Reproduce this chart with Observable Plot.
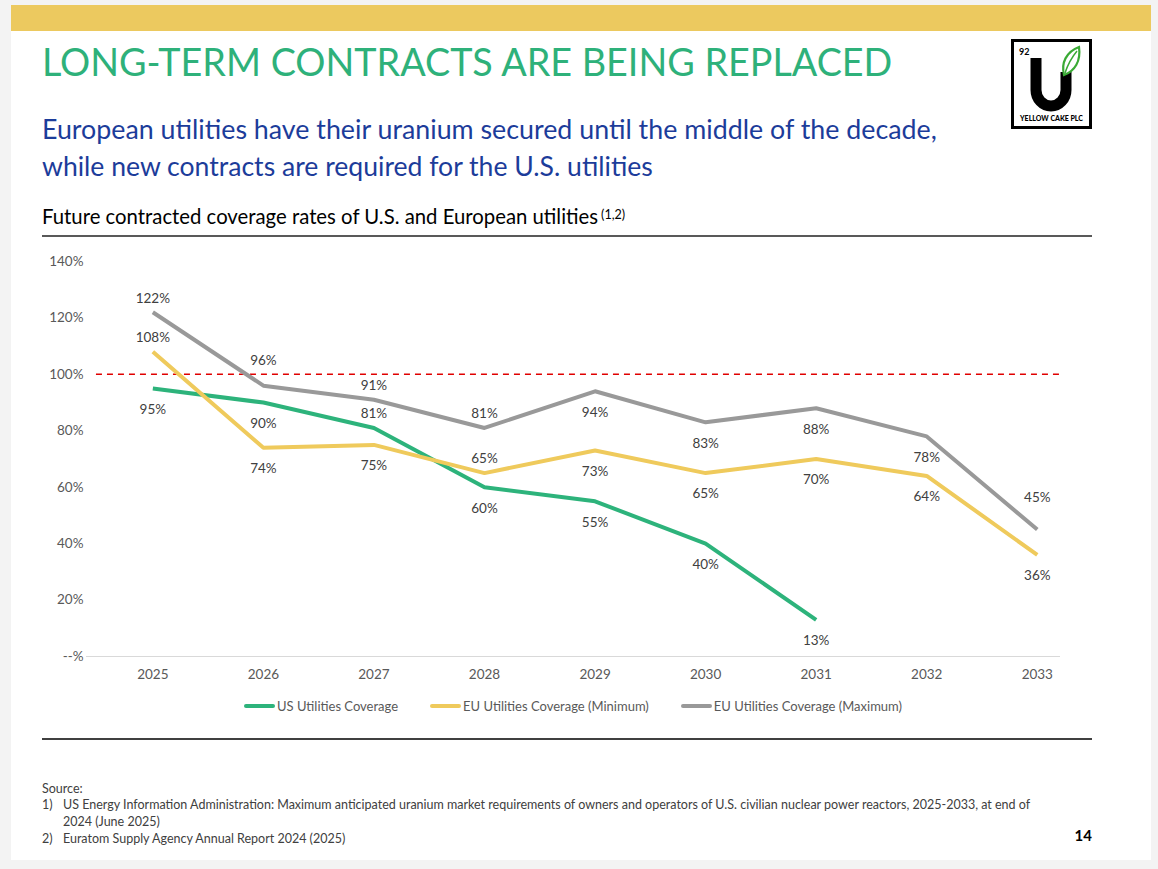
<!DOCTYPE html>
<html><head><meta charset="utf-8">
<script src="https://cdn.jsdelivr.net/npm/d3@7"></script>
<script src="https://cdn.jsdelivr.net/npm/@observablehq/plot@0.6"></script>
<style>
html,body{margin:0;padding:0;background:#f3f3f3;width:1158px;height:869px;overflow:hidden;font-family:Lato,"Open Sans",sans-serif;}
#slide{position:absolute;left:11px;top:5px;width:1140px;height:855px;background:#fff;}
#deco{position:absolute;left:0;top:0;}
#chart{position:absolute;left:0;top:245px;width:1158px;}
#legend{position:absolute;left:0;top:698px;width:1146px;display:flex;justify-content:center;gap:32px;font-size:13px;color:#595959;font-family:Lato,sans-serif;}
#legend .item{display:flex;align-items:center;}
#legend .sw{width:31px;height:4px;border-radius:2px;margin-right:2px;}
</style></head><body>
<div id="slide"></div>
<svg id="deco" width="1158" height="869" font-family="Lato, sans-serif">
  <rect x="11" y="5" width="1140" height="26" fill="#ecc95f"/>
  <text id="t1" x="42" y="76" fill="#2eb17a" font-size="38">LONG-TERM CONTRACTS ARE BEING REPLACED</text>
  <text id="t2" x="42" y="139" fill="#1c3c9a" font-size="25">European utilities have their uranium secured until the middle of the decade,</text>
  <text id="t3" x="42" y="176" fill="#1c3c9a" font-size="25">while new contracts are required for the U.S. utilities</text>
  <text id="t4" x="42" y="224" fill="#000" font-size="18">Future contracted coverage rates of U.S. and European utilities</text>
  <text id="t4s" x="601" y="219" fill="#000" font-size="12.5">(1,2)</text>
  <line x1="42" x2="1092" y1="236" y2="236" stroke="#595959" stroke-width="2"/>
  <line x1="42" x2="1092" y1="739" y2="739" stroke="#404040" stroke-width="2"/>
  <g fill="#404040" font-size="12.5">
    <text x="42" y="793">Source:</text>
    <text x="42" y="809">1)</text>
    <text id="s1" x="63" y="809">US Energy Information Administration: Maximum anticipated uranium market requirements of owners and operators of U.S. civilian nuclear power reactors, 2025-2033, at end of</text>
    <text x="63" y="826">2024 (June 2025)</text>
    <text x="42" y="843">2)</text>
    <text x="63" y="843">Euratom Supply Agency Annual Report 2024 (2025)</text>
  </g>
  <text x="1092" y="841" text-anchor="end" font-weight="bold" font-size="15" fill="#000">14</text>
  <!-- logo -->
  <g>
    <rect x="1012.5" y="40.5" width="78" height="87" fill="#fff" stroke="#000" stroke-width="3"/>
    <text x="1019" y="55" font-size="9" font-weight="bold" fill="#000">92</text>
    <path d="M1036,58 L1036,90 A15,16 0 0 0 1066,90 L1066,72" fill="none" stroke="#000" stroke-width="11"/>
    <path d="M1064,75 C1061,63 1066,52 1079,47 C1081,61 1075,71 1064,75 Z" fill="#fff" stroke="#3aaa35" stroke-width="2.2"/>
    <path d="M1065,73 C1068,64 1072,57 1077,51" fill="none" stroke="#3aaa35" stroke-width="1.5"/>
    <text x="1051.5" y="121" text-anchor="middle" font-size="7" font-weight="900" fill="#000">YELLOW CAKE PLC</text>
  </g>
</svg>
<div id="chart"></div>
<div id="legend"></div>
<script>
// ---- data ----
const years = [2025, 2026, 2027, 2028, 2029, 2030, 2031, 2032, 2033];
const usCoverage = [95, 90, 81, 60, 55, 40, 13];
const euMinCoverage = [108, 74, 75, 65, 73, 65, 70, 64, 36];
const euMaxCoverage = [122, 96, 91, 81, 94, 83, 88, 78, 45];
const seriesNames = ["US Utilities Coverage", "EU Utilities Coverage (Minimum)", "EU Utilities Coverage (Maximum)"];
const yTicks = [0, 20, 40, 60, 80, 100, 120, 140];
const fullCoverage = 100;

// ---- style config ----
const seriesColors = ["#2db37b", "#efca5c", "#999999"];
const labelAbove = {
  "US Utilities Coverage": [2027],
  "EU Utilities Coverage (Minimum)": [2025, 2028],
  "EU Utilities Coverage (Maximum)": [2025, 2026, 2027, 2028, 2033]
};
const labelShift = {"EU Utilities Coverage (Maximum)|2026": -25, "EU Utilities Coverage (Maximum)|2033": -32};

const rows = [];
[usCoverage, euMinCoverage, euMaxCoverage].forEach((vals, si) => {
  vals.forEach((v, i) => {
    const s = seriesNames[si];
    const yr = years[i];
    let dy = labelAbove[s].includes(yr) ? -14 : 21;
    if (labelShift[s + "|" + yr] !== undefined) dy = labelShift[s + "|" + yr];
    rows.push({year: yr, value: v, series: s, dy});
  });
});
const dys = [...new Set(rows.map(d => d.dy))];

const chart = Plot.plot({
  width: 1158,
  height: 445,
  marginLeft: 86,
  marginRight: 98,
  marginTop: 16,
  marginBottom: 34,
  style: {fontFamily: "Lato, sans-serif", fontSize: "13px", background: "transparent", color: "#595959"},
  x: {type: "linear", domain: [2024.4, 2033.21]},
  y: {domain: [0, 140]},
  color: {domain: seriesNames, range: seriesColors},
  marks: [
    Plot.ruleY([0], {stroke: "#d9d9d9", strokeWidth: 1}),
    Plot.ruleY([fullCoverage], {stroke: "#e00000", strokeDasharray: "6,5", strokeWidth: 1.5, x1: 2024.49, x2: 2033.21}),
    Plot.line(rows, {x: "year", y: "value", z: "series", stroke: "series", strokeWidth: 4, strokeLinejoin: "round", strokeLinecap: "butt"}),
    ...dys.map(dy => Plot.text(rows.filter(d => d.dy === dy), {x: "year", y: "value", text: d => d.value + "%", dy, fill: "#404040", fontSize: 13.5})),
    Plot.axisX(years, {tickSize: 0, tickPadding: 13, tickFormat: "d", label: null, fontSize: 13.5, fill: "#595959"}),
    Plot.axisY(yTicks, {tickSize: 0, tickPadding: 3, tickFormat: d => d === 0 ? "--%" : d + "%", label: null, fontSize: 13.5, fill: "#595959"})
  ]
});
document.getElementById("chart").appendChild(chart);

// legend
const leg = document.getElementById("legend");
seriesNames.forEach((s, i) => {
  const it = document.createElement("div"); it.className = "item";
  const sw = document.createElement("div"); sw.className = "sw"; sw.style.background = seriesColors[i];
  const tx = document.createElement("span"); tx.textContent = s;
  it.appendChild(sw); it.appendChild(tx); leg.appendChild(it);
});

// fit slide texts to their widths in the reference
function fit(id, w) {
  const el = document.getElementById(id);
  const fs = parseFloat(el.getAttribute("font-size"));
  const len = el.getComputedTextLength();
  el.setAttribute("font-size", (fs * w / len).toFixed(2));
}
function fitAll() {
  fit("t1", 850); fit("t2", 895); fit("t3", 611); fit("t4", 556);
  const t4 = document.getElementById("t4");
  document.getElementById("t4s").setAttribute("x", 42 + t4.getComputedTextLength() + 3);
  fit("s1", 1030);
}
if (document.fonts && document.fonts.ready) document.fonts.ready.then(fitAll); else fitAll();
fitAll();
</script>
</body></html>
